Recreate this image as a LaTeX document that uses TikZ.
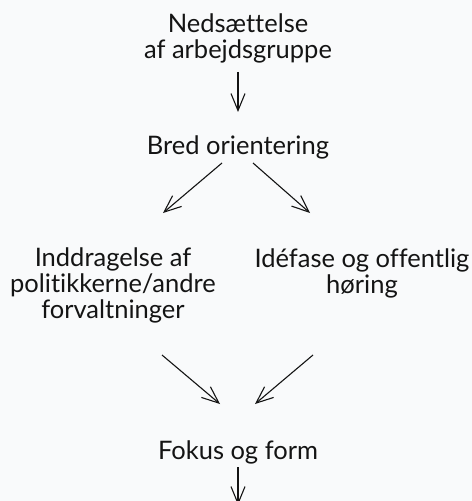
\documentclass[tikz,border=0pt]{standalone}
\usepackage{fontspec}
\setmainfont{Lato}[Ligatures={NoCommon}]
\usetikzlibrary{arrows.meta}
\definecolor{bg}{RGB}{249,250,251}
\definecolor{ink}{RGB}{20,20,20}
\begin{document}
\begin{tikzpicture}[x=1bp,y=-1bp,
  lbl/.style={inner sep=0pt,align=center,text=ink,font=\fontsize{25.5bp}{26bp}\selectfont},
  conn/.style={draw=ink,line width=1.1bp,-{Straight Barb[length=17bp,width=14bp,line width=1.1bp]}}]
\fill[bg] (0,0) rectangle (472,501);
\useasboundingbox (0,0) rectangle (472,501);
\clip (0,0) rectangle (472,501);
\node[lbl,anchor=base] (n1) at (238,59) {Nedsættelse\\af arbejdsgruppe};
\node[lbl,anchor=base] (n2) at (238,155) {Bred orientering};
\node[lbl,anchor=base] (n3) at (113,318) {Inddragelse af\\politikkerne/andre\\forvaltninger};
\node[lbl,anchor=base] (n4) at (362,293) {Idéfase og offentlig\\høring};
\node[lbl,anchor=base] (n5) at (238,459) {Fokus og form};
\coordinate (a1s) at (238,72);  \coordinate (a1e) at (238,112);
\coordinate (a2s) at (222,163); \coordinate (a2e) at (163,213);
\coordinate (a3s) at (253,163); \coordinate (a3e) at (310,213);
\coordinate (a4s) at (162,355); \coordinate (a4e) at (220,404);
\coordinate (a5s) at (313,355); \coordinate (a5e) at (255,404);
\coordinate (a6s) at (238,467); \coordinate (a6e) at (238,505);
\draw[conn] (a1s) -- (a1e);
\draw[conn] (a2s) -- (a2e);
\draw[conn] (a3s) -- (a3e);
\draw[conn] (a4s) -- (a4e);
\draw[conn] (a5s) -- (a5e);
\draw[conn] (a6s) -- (a6e);
\end{tikzpicture}
\end{document}
